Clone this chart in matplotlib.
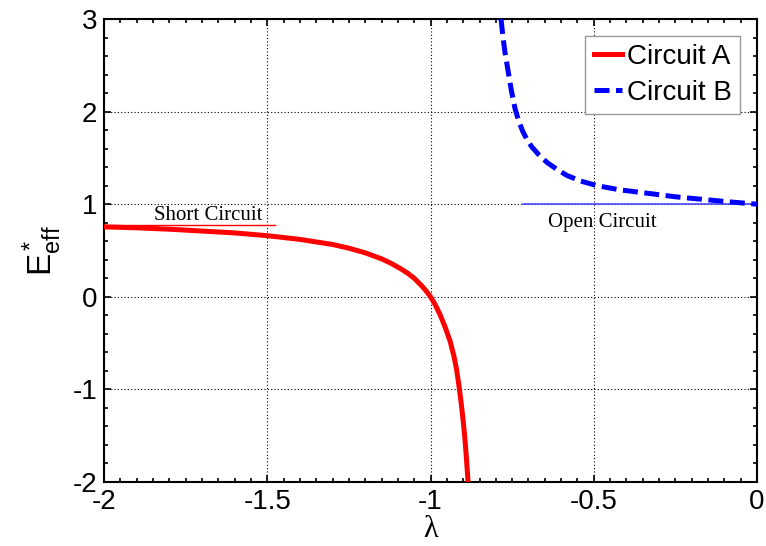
import matplotlib
matplotlib.use("Agg")
import matplotlib.pyplot as plt
from matplotlib.ticker import MultipleLocator

# Circuit A: effective modulus vs lambda (pole just right of -1)
LAM_A = [-2.0, -1.9, -1.8, -1.7, -1.6, -1.5, -1.4, -1.3, -1.25, -1.2,
         -1.15, -1.12, -1.09, -1.07, -1.05, -1.03, -1.015, -1.0, -0.985,
         -0.97, -0.955, -0.94, -0.928, -0.92, -0.913, -0.906, -0.9,
         -0.895, -0.891, -0.887, -0.885]
E_A = [0.755, 0.745, 0.73, 0.71, 0.69, 0.66, 0.62, 0.565, 0.525, 0.475,
       0.41, 0.36, 0.30, 0.255, 0.20, 0.13, 0.07, 0.0, -0.09,
       -0.20, -0.33, -0.48, -0.645, -0.79, -0.96, -1.15, -1.34,
       -1.52, -1.70, -1.90, -2.0]

# Circuit B
LAM_B = [-0.784, -0.778, -0.772, -0.763, -0.752, -0.741, -0.73, -0.718,
         -0.705, -0.69, -0.67, -0.643, -0.61, -0.582, -0.54, -0.49,
         -0.42, -0.328, -0.25, -0.175, -0.1, 0.0]
E_B = [3.0, 2.80, 2.64, 2.45, 2.22, 2.03, 1.90, 1.79,
       1.70, 1.62, 1.54, 1.45, 1.37, 1.31, 1.25, 1.20,
       1.155, 1.115, 1.08, 1.055, 1.03, 1.0]

# limiting cases
SHORT_LAM = [-2.0, -1.476]
SHORT_E = [0.778, 0.778]
OPEN_LAM = [-0.717, 0.0]
OPEN_E = [1.0, 1.0]

X_TICKS = [-2, -1.5, -1, -0.5, 0]
X_LABELS = ["-2", "-1.5", "-1", "-0.5", "0"]
Y_TICKS = [-2, -1, 0, 1, 2, 3]
Y_LABELS = ["-2", "-1", "0", "1", "2", "3"]

plt.rcParams["font.family"] = "Liberation Sans"
plt.rcParams["mathtext.fontset"] = "stix"

fig = plt.figure(figsize=(7.66, 5.46), dpi=100)
ax = fig.add_axes([0.1358, 0.1172, 0.8525, 0.848])

ax.plot(SHORT_LAM, SHORT_E, color="red", lw=1.0, zorder=2)
ax.plot(OPEN_LAM, OPEN_E, color="#4848ff", lw=1.2, zorder=2)
ax.plot(LAM_A, E_A, color="red", lw=3.6, label="Circuit A", zorder=3,
        solid_joinstyle="round")
ax.plot(LAM_B, E_B, color="blue", lw=3.6, ls=(0, (3, 1.3)),
        label="Circuit B", zorder=3)

ax.text(-1.68, 0.83, "Short Circuit", family="Liberation Serif", fontsize=15,
        ha="center", va="baseline")
ax.text(-0.473, 0.756, "Open Circuit", family="Liberation Serif", fontsize=15,
        ha="center", va="baseline")

ax.set_xlim(-2, 0)
ax.set_ylim(-2, 3)
ax.set_xticks(X_TICKS)
ax.set_xticklabels(X_LABELS)
ax.set_yticks(Y_TICKS)
ax.set_yticklabels(Y_LABELS)
ax.xaxis.set_minor_locator(MultipleLocator(0.05))
ax.yaxis.set_minor_locator(MultipleLocator(0.2))
ax.tick_params(which="both", direction="in", top=True, right=True,
               labelsize=20, width=1.2)
ax.tick_params(which="major", length=5, pad=5)
ax.tick_params(which="minor", length=3)
ax.grid(True, which="major", color="black", ls=(0, (1, 2)), lw=0.8)
for s in ax.spines.values():
    s.set_linewidth(1.5)

ax.set_xlabel("λ", family="Liberation Serif", fontsize=22, labelpad=0)
ax.set_ylabel(r"$\mathregular{E^*_{eff}}$", fontsize=24, labelpad=6)

leg = ax.legend(loc="upper right", fontsize=20, handlelength=1.0,
                handletextpad=0.2, borderpad=0.3, labelspacing=0.35,
                borderaxespad=0.6, fancybox=False, framealpha=1)
leg.get_frame().set_edgecolor("#999999")
leg.get_frame().set_linewidth(1.0)

fig.savefig("out.png", dpi=100)
